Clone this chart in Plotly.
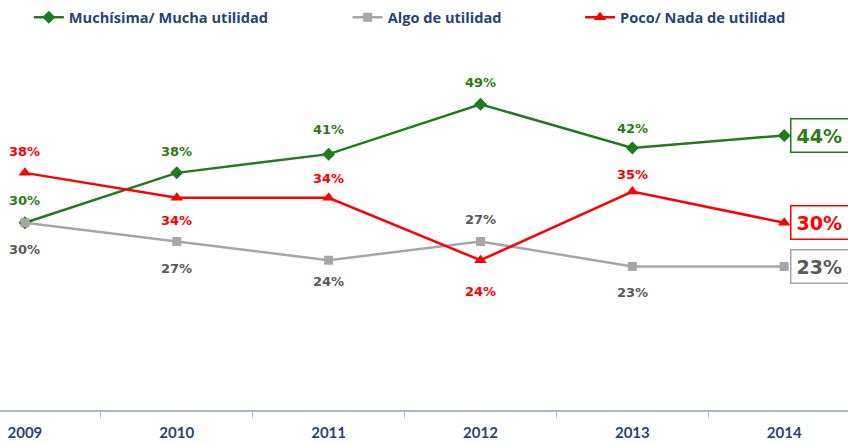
import plotly.graph_objects as go

years = ["2009", "2010", "2011", "2012", "2013", "2014"]
mucha = [30, 38, 41, 49, 42, 44]
algo = [30, 27, 24, 27, 23, 23]
poco = [38, 34, 34, 24, 35, 30]
names = ["Muchísima/ Mucha utilidad", "Algo de utilidad", "Poco/ Nada de utilidad"]

xs = list(range(len(years)))

GREEN = "#1E7B1E"
GREEN_TXT = "#2F7A12"
GRAY = "#A6A6A6"
GRAY_TXT = "#595959"
RED = "#FF0000"
NAVY = "#264478"

fig = go.Figure()
fig.add_trace(go.Scatter(x=xs, y=mucha, name=f"<b>{names[0]}</b>", mode="lines+markers",
                         line=dict(color=GREEN, width=2.5),
                         marker=dict(symbol="diamond", size=10, color=GREEN),
                         legend="legend"))
fig.add_trace(go.Scatter(x=xs, y=algo, name=f"<b>{names[1]}</b>", mode="lines+markers",
                         line=dict(color=GRAY, width=2.5),
                         marker=dict(symbol="square", size=9, color=GRAY),
                         legend="legend2"))
fig.add_trace(go.Scatter(x=xs, y=poco, name=f"<b>{names[2]}</b>", mode="lines+markers",
                         line=dict(color=RED, width=2.5),
                         marker=dict(symbol="triangle-up", size=11, color=RED),
                         legend="legend3"))

# label vertical offsets (px) for first five years
shift_mucha = [22, 21, 25, 22, 19]
shift_algo = [-27, -27, -21, 22, -26]
shift_poco = [21, -23, 19, -31, 17]

lab_font = "DejaVu Sans"
for vals, shifts, col in [(mucha, shift_mucha, GREEN_TXT), (algo, shift_algo, GRAY_TXT),
                          (poco, shift_poco, RED)]:
    for i in range(5):
        fig.add_annotation(x=xs[i], y=vals[i], xref="x", yref="y",
                           text=f"<b>{vals[i]}%</b>", showarrow=False,
                           yshift=shifts[i], font=dict(family=lab_font, size=13, color=col))

for vals, col, bcol in [(mucha, GREEN_TXT, GREEN), (poco, RED, RED), (algo, GRAY_TXT, GRAY)]:
    fig.add_annotation(x=xs[5], y=vals[5], xref="x", yref="y",
                       text=f"<b>{vals[5]}%</b>", showarrow=False,
                       xanchor="left", xshift=6, width=58, align="left",
                       font=dict(family=lab_font, size=19, color=col),
                       bordercolor=bcol, borderwidth=1.5, borderpad=5, bgcolor="white")

leg_common = dict(orientation="h", yanchor="middle", y=0.958, bgcolor="rgba(0,0,0,0)",
                  font=dict(family="Open Sans", size=14.6, color=NAVY), itemwidth=30)

fig.update_layout(
    template="none",
    width=848, height=443,
    margin=dict(l=0, r=0, t=0, b=33, autoexpand=False),
    paper_bgcolor="white", plot_bgcolor="white",
    showlegend=True,
    legend=dict(x=0.034, **leg_common),
    legend2=dict(x=0.410, **leg_common),
    legend3=dict(x=0.684, **leg_common),
    xaxis=dict(range=[-0.164, 5.42], tickmode="array", tickvals=xs,
               ticktext=[f"<b>{y}</b>" for y in years],
               ticks="", showline=True, linecolor="#A9B8CC", linewidth=2,
               ticklabelstandoff=8,
               minor=dict(tickmode="array", tickvals=[x + 0.5 for x in xs[:-1]],
                          ticks="outside", ticklen=6, tickcolor="#A9B8CC", tickwidth=1,
                          showgrid=False),
               showgrid=False, zeroline=False, automargin=False,
               tickfont=dict(family="Lato", size=15, color=NAVY)),
    yaxis=dict(range=[0, 65.7], visible=False, showgrid=False, zeroline=False),
)

fig.write_html("out.html", config={"displayModeBar": False},
               post_script="document.body.style.margin='0px';")
